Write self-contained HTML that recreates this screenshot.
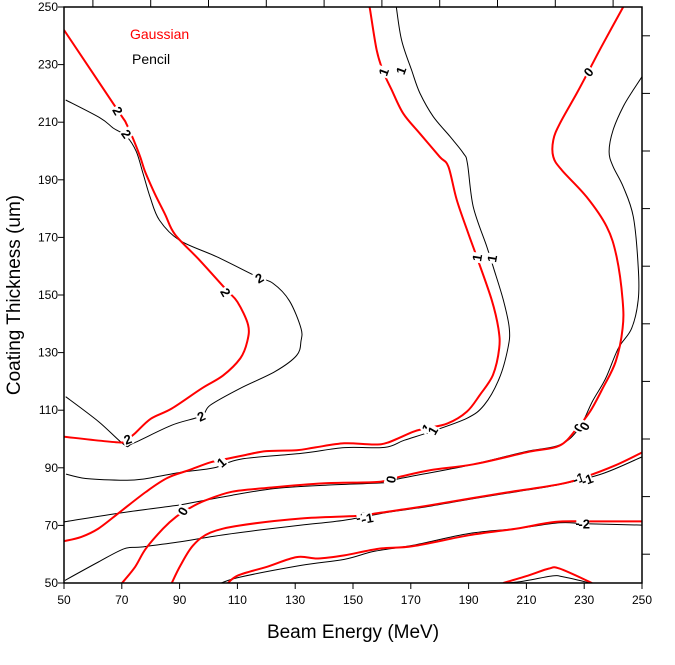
<!DOCTYPE html>
<html><head><meta charset="utf-8"><style>
body{margin:0;background:#fff;}
svg{display:block;font-family:"Liberation Sans",Arial,sans-serif;}
</style></head><body>
<svg id="chart" width="675" height="665" viewBox="0 0 675 665"></svg>
<script>
const xTicks=[50,70,90,110,130,150,170,190,210,230,250];
const yTicks=[50,70,90,110,130,150,170,190,210,230,250];
const xMinor=[60,80,100,120,140,160,180,200,220,240];
const yMinor=[60,80,100,120,140,160,180,200,220,240];
const gauss2=[[50,100.8],[69.4,98.8],[72,100],[74.6,102],[80,107],[87.3,110.6],[97.7,117.6],[105,122],[111,128],[113.4,133.8],[113.7,139.6],[110,147.6],[106,152],[97,162],[88.4,171],[85,178],[81.5,185],[78,193],[76,199],[71.8,209],[68.7,214],[50,242]];
const pencil2=[[50.6,114.7],[62,106],[70.9,98],[73.9,98.5],[87.3,104.8],[97.4,108],[100.7,111.8],[111,117.6],[123,123.4],[130.5,129],[132,134],[132,138.4],[128,148],[122.4,154],[116.7,156.4],[102.8,163.3],[90,169],[83,176],[79.8,184],[77.4,192],[75,199.8],[71.7,205],[67,208],[62.5,211.5],[50.6,217.7]];
const gauss1=[[50,64.5],[56,66],[61.9,68.9],[69.4,74.7],[78.3,81.6],[85.8,86.5],[93.3,89.2],[100.7,91.9],[106.7,93.2],[112.6,94.4],[120,95.8],[130.5,96.1],[136.5,97],[147,98.5],[156.6,98.1],[161.9,98.7],[170.8,102.5],[175.3,103.7],[182.7,105.4],[189.4,109.5],[193.9,115.3],[198.4,122.2],[200.6,131.5],[200.3,138.4],[198,148.3],[192.8,163.3],[189.9,171.4],[185.9,183],[183,194.6],[180,198],[173.2,206],[167.4,213],[163.4,221.2],[160.5,227.5],[158.2,235],[155.9,249],[155.7,250]];
const pencil1=[[50.7,87.8],[57.5,86.3],[69.4,85.7],[76.8,86],[90.3,88.4],[102,90],[111,93],[132,95],[147,97],[161,97.1],[167.8,99.6],[176.8,102.5],[189.4,107.2],[195.4,111.8],[200.6,121],[203.6,131.5],[204.1,138.4],[202,148.3],[198.5,159.8],[196.3,166.8],[191.6,180.7],[189.6,195.7],[188.2,199.2],[183.6,205],[177.8,211.9],[173.2,220],[170.3,228],[166.8,238.5],[165,250]];
const gauss0=[[70.1,50],[74.6,55.6],[78.3,61.9],[84.3,68.9],[88.8,73],[93.3,75.9],[99.2,78.8],[108.2,81.7],[120,83],[139.5,84.6],[158.9,85.1],[166.3,86.9],[176.8,89.2],[191.7,91.2],[211,95.6],[221.5,97.7],[227.5,103.7],[232,109.5],[236.4,117.6],[240.9,126.9],[243.3,138.4],[243.3,148.3],[241.2,163.3],[237.8,173.7],[230.8,184.1],[222.2,193.4],[219.3,198],[219.3,203.8],[221.6,209.6],[227.4,220],[231.4,227.5],[236.6,237.4],[243.5,250]];
const pencil0=[[50,71.2],[69.4,74.3],[88,76.8],[93.3,77.7],[108.2,80.5],[123,82.8],[141,84],[161.9,84.9],[166.3,86.3],[190.2,90.9],[209.6,95.6],[221.5,97.9],[228.2,103.7],[232.8,113],[237.4,121],[241.8,131.5],[246.4,138.4],[248.7,148.3],[248.7,159.8],[247,177.2],[243.5,187.6],[240,194.6],[238.6,199.8],[240,207.3],[243.5,215.4],[247,221.2],[250,225.8]];
const gaussM1=[[87.3,50],[90.3,56.1],[94.7,63.1],[100.7,67.5],[111.1,70],[132,72.4],[151.4,73.3],[158.9,74.3],[176.8,77],[199.2,80.8],[221.5,84.3],[230.5,86.9],[240.9,90.9],[250,95.3]];
const pencilM1=[[50.3,50.9],[61.9,57.3],[70.9,61.9],[76.8,62.5],[90.3,64.3],[102.2,66.3],[117,68.3],[132,70.1],[147,71.8],[161.9,74.5],[176.8,76.7],[191.7,79.3],[206.6,81.7],[221.5,84.2],[236.4,88],[250,93.8]];
const gaussM2=[[106.7,50],[110.4,52.7],[120.1,55.6],[130.5,59],[137.9,58.5],[147,59.6],[158.9,61.9],[170.8,62.8],[190.2,66.6],[206.6,68.9],[220,71.2],[232,71.4],[250,71.4]];
const pencilM2=[[104.4,50],[111.1,52.1],[132,56.1],[147,58.2],[157.4,61],[170.8,63.1],[190.2,67.2],[206.6,68.9],[221.5,70.9],[230.5,70.6],[250,70.1]];
const gaussM3=[[202,50],[211,52.7],[217.7,55],[221.5,55],[232.7,50]];
const pencilM3=[[192.4,49.8],[206.6,50.3],[218.5,52.4],[223,52.1],[232,50]];
const labelText=["2","2","2","2","2","2","1","1","1","1","1","1","1","0","0","0","0","0","-1","-1","-1","-1","-2","-2"];
const labelX=[68.7,71.7,106,117.5,72,97.4,104.4,175.3,177.5,160.5,166.5,192.8,198,231.4,91,163,228,230,153,155,228,231,229,230];
const labelY=[214,206,151,156,100,108,92,103.7,103,227.5,228,163,162.7,227.5,75,86,104,104.5,73,72.6,86.5,86,71,70.6];
const labelAng=[60,55,60,-30,-20,-25,-40,-40,-60,-70,-70,-80,-80,-50,-60,-80,-60,-60,-10,-10,-20,-20,0,0];

const L=64,R=642,T=7,B=583;
const sx=v=>L+(v-50)/200*(R-L);
const sy=v=>B-(v-50)/200*(B-T);
const svg=document.getElementById('chart');
const NS='http://www.w3.org/2000/svg';
function mk(tag,attrs,parent){const e=document.createElementNS(NS,tag);for(const k in attrs)e.setAttribute(k,attrs[k]);(parent||svg).appendChild(e);return e;}
function pathD(pts){const p=pts.map(q=>[sx(q[0]),sy(q[1])]);let d='M'+p[0][0].toFixed(1)+','+p[0][1].toFixed(1);
for(let i=0;i<p.length-1;i++){const p0=p[i-1]||p[i],p1=p[i],p2=p[i+1],p3=p[i+2]||p2;
const c1=[p1[0]+(p2[0]-p0[0])/6,p1[1]+(p2[1]-p0[1])/6],c2=[p2[0]-(p3[0]-p1[0])/6,p2[1]-(p3[1]-p1[1])/6];
d+=' C'+c1.map(v=>v.toFixed(1)).join(',')+' '+c2.map(v=>v.toFixed(1)).join(',')+' '+p2.map(v=>v.toFixed(1)).join(',');}return d;}
const clip=mk('clipPath',{id:'pc'});mk('rect',{x:L,y:T,width:R-L,height:B-T},clip);
const g=mk('g',{'clip-path':'url(#pc)'});


const pencils={'pencil-contour-2':pencil2,'pencil-contour-1':pencil1,'pencil-contour-0':pencil0,'pencil-contour-m1':pencilM1,'pencil-contour-m2':pencilM2,'pencil-contour-m3':pencilM3};
const gauss={'gaussian-contour-2':gauss2,'gaussian-contour-1':gauss1,'gaussian-contour-0':gauss0,'gaussian-contour-m1':gaussM1,'gaussian-contour-m2':gaussM2,'gaussian-contour-m3':gaussM3};
for(const n in pencils){const e=mk('path',{d:pathD(pencils[n]),fill:'none',stroke:'#000','stroke-width':1},g);

}
for(const n in gauss){const e=mk('path',{d:pathD(gauss[n]),fill:'none',stroke:'#f00','stroke-width':2},g);

}
for(let i=0;i<labelText.length;i++){const x=sx(labelX[i]),y=sy(labelY[i]);
const gg=mk('g',{transform:`translate(${x},${y}) rotate(${labelAng[i]})`});


mk('rect',{x:-5,y:-6,width:10,height:12,fill:'#fff'},gg);
mk('text',{x:0,y:5,'text-anchor':'middle','font-size':13,'font-weight':'bold',fill:'#000'},gg).textContent=labelText[i];}
const fr=mk('rect',{x:L,y:T,width:R-L,height:B-T,fill:'none',stroke:'#000','stroke-width':1.5});


xTicks.forEach(v=>{mk('line',{x1:sx(v),x2:sx(v),y1:B,y2:B+6,stroke:'#000'});
const t=mk('text',{x:sx(v),y:B+21,'text-anchor':'middle','font-size':12,fill:'#000'});t.textContent=v;

});
yTicks.forEach(v=>{mk('line',{x1:L-6,x2:L,y1:sy(v),y2:sy(v),stroke:'#000'});
const t=mk('text',{x:L-6,y:sy(v)+4,'text-anchor':'end','font-size':12,fill:'#000'});t.textContent=v;

});
xMinor.forEach(v=>mk('line',{x1:sx(v),x2:sx(v),y1:T-7,y2:T,stroke:'#000'}));
yMinor.forEach(v=>mk('line',{x1:R,x2:R+8,y1:sy(v),y2:sy(v),stroke:'#000'}));
const xt=mk('text',{x:353,y:638,'text-anchor':'middle','font-size':19,fill:'#000'});xt.textContent='Beam Energy (MeV)';


const yt=mk('text',{x:0,y:0,transform:'translate(20,295) rotate(-90)','text-anchor':'middle','font-size':19,fill:'#000'});yt.textContent='Coating Thickness (um)';


const lg=mk('text',{x:130,y:39,'font-size':14,fill:'#f00'});lg.textContent='Gaussian';


const lp=mk('text',{x:132,y:64,'font-size':14,fill:'#000'});lp.textContent='Pencil';


</script>
</body></html>
